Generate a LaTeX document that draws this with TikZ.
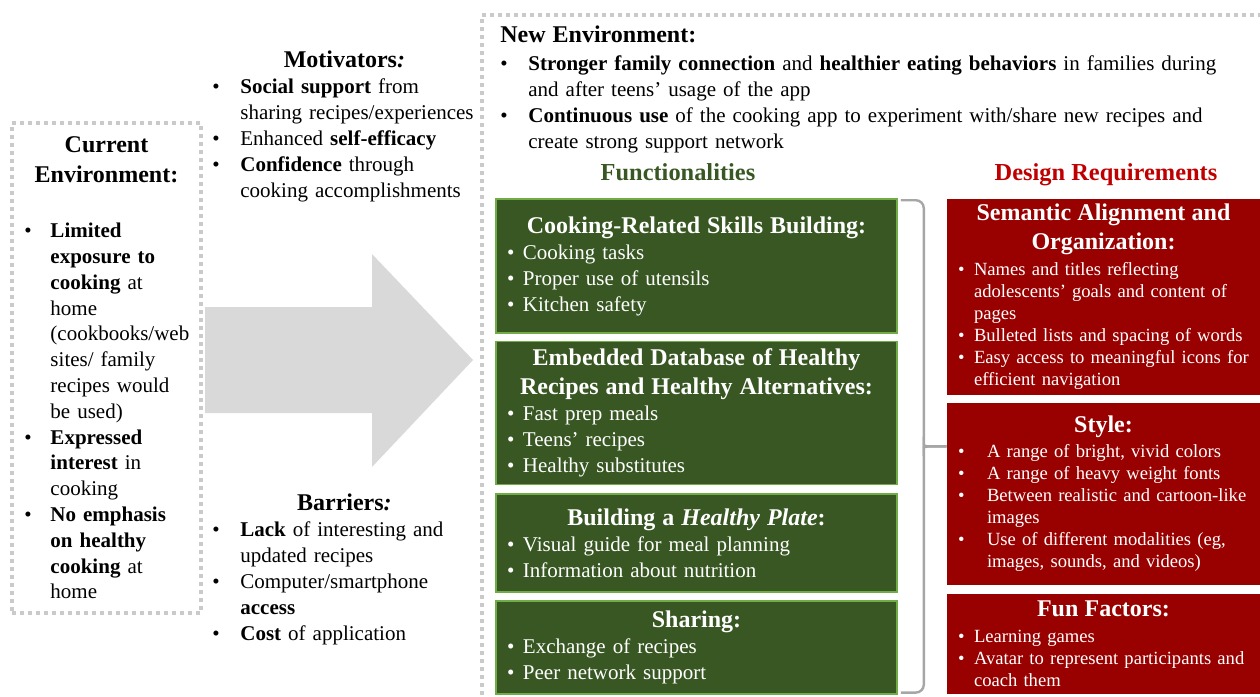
\documentclass[tikz,border=0pt]{standalone}
\usepackage{fontspec}
\setmainfont{Liberation Serif}
\usetikzlibrary{positioning, calc}
\definecolor{FunGreen}{HTML}{385723}
\definecolor{FunEdge}{HTML}{70AD47}
\definecolor{ReqRed}{HTML}{990000}
\definecolor{TitleRed}{HTML}{C00000}
\definecolor{DotGray}{HTML}{CACACA}
\definecolor{ArrowGray}{HTML}{D9D9D9}
\definecolor{BraceGray}{HTML}{A6A6A6}

\setlength{\parindent}{0pt}
\setlength{\parskip}{0pt}
\newlength{\itemind}
% 带悬挂缩进的条目
\newcommand{\bitem}[1]{\par\hangindent=\itemind\hangafter=1\noindent\hbox to\itemind{\textbullet\hfil}#1\par}
\newcommand{\headfont}{\bfseries\fontsize{12}{14.5}\selectfont}
\newcommand{\bhead}[2][0pt]{{\centering\headfont #2\par}\vspace{#1}}

\begin{document}
\begin{tikzpicture}[
    % 像素坐标: 1px = 0.5pt, y 向下
    x=0.5pt, y=-0.5pt,
    font=\fontsize{10.5}{13}\selectfont,
    % 样式定义
    dotframe/.style={draw=DotGray, line width=1.8pt, dash pattern=on 1.8pt off 2.2pt},
    listtext/.style={align=left, inner sep=0pt, anchor=base west,
        execute at begin node={\setlength{\itemind}{14pt}}},
    coltitle/.style={font=\bfseries\fontsize{12.2}{14}\selectfont, anchor=base},
    panel/.style={align=left, inner xsep=5.5pt, inner ysep=1pt},
    funbox/.style={panel, fill=FunGreen, draw=FunEdge, line width=0.8pt, text=white,
        minimum width=200.5pt, text width=189.5pt,
        execute at begin node={\setlength{\itemind}{8pt}}},
    reqbox/.style={panel, fill=ReqRed, text=white, minimum width=156.5pt, text width=145.5pt,
        font=\fontsize{9.3}{11}\selectfont,
        execute at begin node={\setlength{\itemind}{8pt}}},
    brace/.style={draw=BraceGray, line width=1.2pt, rounded corners=4pt}
]
    \useasboundingbox (0,0) rectangle (1260,697);

    % ====== 1. 左侧: 当前环境 ======
    \node[dotframe, align=left, inner sep=0pt, minimum width=94.5pt, minimum height=245pt,
        text width=82pt, execute at begin node={\setlength{\itemind}{13pt}}] (current) at (106.5,368) {%
        {\centering\bfseries\fontsize{12}{15}\selectfont Current\\ Environment:\par}
        \vspace{14.6pt}
        \fontsize{10.5}{12.9}\selectfont
        \bitem{\textbf{Limited}\newline \textbf{exposure to}\newline \textbf{cooking} at\newline home\newline (cookbooks/web\newline sites/ family\newline recipes would\newline be used)}
        \bitem{\textbf{Expressed}\newline \textbf{interest} in\newline cooking}
        \bitem{\textbf{No emphasis}\newline \textbf{on healthy}\newline \textbf{cooking} at\newline home}};

    % 大箭头
    \fill[ArrowGray] (205,307) -- (372,307) -- (372,254) -- (473,360) -- (372,467) -- (372,413) -- (205,413) -- cycle;

    % 动机与障碍
    \node[listtext, text width=132pt] (motiv) at (212,67) {%
        \bhead{Motivators\textit{:}}
        \bitem{\textbf{Social support} from\newline sharing recipes/experiences}
        \bitem{Enhanced \textbf{self-efficacy}}
        \bitem{\textbf{Confidence} through\newline cooking accomplishments}};
    \node[listtext, text width=132pt] (barrier) at (212,510) {%
        \bhead{Barriers\textit{:}}
        \bitem{\textbf{Lack} of interesting and\newline updated recipes}
        \bitem{Computer/smartphone\newline \textbf{access}}
        \bitem{\textbf{Cost} of application}};

    % ====== 2. 右侧: 新环境 ======
    \draw[dotframe] (1262,15) -- (482,15) -- (482,699);
    \node[listtext, text width=362pt] (newenv) at (500,42) {%
        {\headfont New Environment:\par}\vspace{1pt}
        \bitem{\textbf{Stronger family connection} and \textbf{healthier eating behaviors} in families during\newline and after teens’ usage of the app}
        \bitem{\textbf{Continuous use} of the cooking app to experiment with/share new recipes and\newline create strong support network}};

    \node[coltitle, text=FunGreen] (funtitle) at (678,180) {Functionalities};
    \node[coltitle, text=TitleRed] (reqtitle) at (1106,180) {Design Requirements};

    % 功能 (绿色)
    \node[funbox, minimum height=67pt] (skills) at (696.5,266) {%
        \bhead{Cooking-Related Skills Building:}
        \bitem{Cooking tasks}
        \bitem{Proper use of utensils}
        \bitem{Kitchen safety}};
    \node[funbox, minimum height=71.5pt, below=3.5pt of skills] (recipes) {%
        \bhead{Embedded Database of Healthy\\ Recipes and Healthy Alternatives:}
        \bitem{Fast prep meals}
        \bitem{Teens’ recipes}
        \bitem{Healthy substitutes}};
    \node[funbox, minimum height=49pt, below=4pt of recipes] (plate) {%
        \bhead{Building a \textit{Healthy Plate}:}
        \bitem{Visual guide for meal planning}
        \bitem{Information about nutrition}};
    \node[funbox, minimum height=46.5pt, below=3.5pt of plate] (sharing) {%
        \bhead{Sharing:}
        \bitem{Exchange of recipes}
        \bitem{Peer network support}};

    % 设计要求 (红色)
    \node[reqbox, minimum height=98pt] (semantic) at (1103.5,297) {%
        \bhead[2pt]{Semantic Alignment and\\ Organization:}
        \bitem{Names and titles reflecting\newline adolescents’ goals and content of\newline pages}
        \bitem{Bulleted lists and spacing of words}
        \bitem{Easy access to meaningful icons for\newline efficient navigation}};
    \node[reqbox, minimum height=91pt, below=3.5pt of semantic,
        execute at begin node={\setlength{\itemind}{14.5pt}}] (style) {%
        \bhead[1.5pt]{Style:}
        \bitem{A range of bright, vivid colors}
        \bitem{A range of heavy weight fonts}
        \bitem{Between realistic and cartoon-like\newline images}
        \bitem{Use of different modalities (eg,\newline images, sounds, and videos)}};
    \node[reqbox, minimum height=50pt, below=4pt of style] (fun) {%
        \bhead[2pt]{Fun Factors:}
        \bitem{Learning games}
        \bitem{Avatar to represent participants and\newline coach them}};

    % 花括号
    \coordinate (brtop) at ($(skills.north east)+(3,2)$);
    \coordinate (brbot) at ($(sharing.south east)+(3,-2)$);
    \coordinate (brmid) at ($(brtop)!0.5!(brbot)$);
    \draw[brace] (brtop) -| ($(brmid)+(23,-6)$) .. controls ($(brmid)+(23,0)$) .. (brmid -| semantic.west);
    \draw[brace] (brbot) -| ($(brmid)+(23,6)$) .. controls ($(brmid)+(23,0)$) .. (brmid -| semantic.west);

\end{tikzpicture}
\end{document}
